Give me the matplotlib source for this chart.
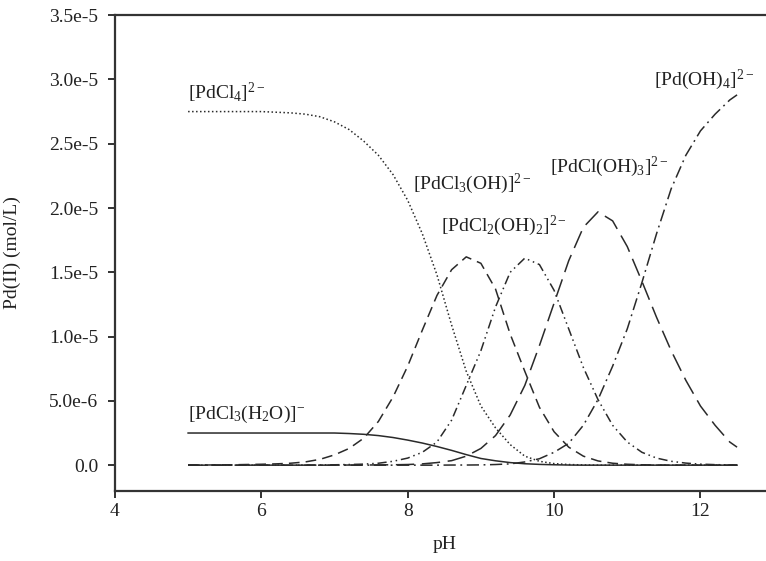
import matplotlib
matplotlib.use('Agg')
import matplotlib.pyplot as plt
import numpy as np

plt.rcParams['font.family'] = ['Liberation Serif', 'DejaVu Serif']
plt.rcParams['mathtext.fontset'] = 'custom'
plt.rcParams['mathtext.rm'] = 'Liberation Serif'
plt.rcParams['mathtext.it'] = 'Liberation Serif:italic'

# pH grid (0.2 step) and concentrations in units of 1e-6 mol/L
ph = [5.0, 5.2, 5.4, 5.6, 5.8, 6.0, 6.2, 6.4, 6.6, 6.8, 7.0, 7.2, 7.4, 7.6, 7.8,
      8.0, 8.2, 8.4, 8.6, 8.8, 9.0, 9.2, 9.4, 9.6, 9.8, 10.0, 10.2, 10.4, 10.6, 10.8,
      11.0, 11.2, 11.4, 11.6, 11.8, 12.0, 12.2, 12.4, 12.5]

pdcl4 = [27.5, 27.5, 27.5, 27.5, 27.5, 27.5, 27.45, 27.4, 27.3, 27.1, 26.7, 26.1, 25.2, 24.1, 22.6,
         20.6, 18.0, 14.8, 10.9, 7.3, 4.6, 2.9, 1.6, 0.7, 0.3, 0.12, 0.05, 0.02, 0.0, 0.0,
         0.0, 0.0, 0.0, 0.0, 0.0, 0.0, 0.0, 0.0, 0.0]
pdcl3_h2o = [2.5, 2.5, 2.5, 2.5, 2.5, 2.5, 2.5, 2.5, 2.5, 2.5, 2.5, 2.46, 2.4, 2.3, 2.15,
             1.95, 1.72, 1.45, 1.15, 0.82, 0.52, 0.34, 0.2, 0.11, 0.06, 0.03, 0.01, 0.0, 0.0, 0.0,
             0.0, 0.0, 0.0, 0.0, 0.0, 0.0, 0.0, 0.0, 0.0]
pdcl3_oh = [0.01, 0.01, 0.02, 0.03, 0.05, 0.07, 0.1, 0.15, 0.25, 0.45, 0.8, 1.3, 2.1, 3.4, 5.3,
            7.7, 10.5, 13.2, 15.2, 16.2, 15.7, 13.7, 10.2, 7.3, 4.5, 2.6, 1.4, 0.7, 0.33, 0.15,
            0.07, 0.03, 0.01, 0.0, 0.0, 0.0, 0.0, 0.0, 0.0]
pdcl2_oh2 = [0.0, 0.0, 0.0, 0.0, 0.0, 0.0, 0.0, 0.0, 0.01, 0.02, 0.03, 0.05, 0.08, 0.15, 0.3,
             0.55, 1.0, 1.8, 3.5, 6.2, 8.9, 12.3, 15.0, 16.1, 15.6, 13.6, 10.6, 7.6, 5.1, 3.1,
             1.8, 1.0, 0.55, 0.3, 0.16, 0.08, 0.04, 0.02, 0.01]
pdcl_oh3 = [0.0, 0.0, 0.0, 0.0, 0.0, 0.0, 0.0, 0.0, 0.0, 0.0, 0.0, 0.01, 0.01, 0.02, 0.03,
            0.05, 0.1, 0.2, 0.35, 0.7, 1.3, 2.3, 3.9, 6.2, 9.3, 12.6, 15.9, 18.5, 19.7, 19.0,
            17.0, 14.3, 11.5, 8.9, 6.6, 4.6, 3.1, 1.8, 1.4]
pd_oh4 = [0.0, 0.0, 0.0, 0.0, 0.0, 0.0, 0.0, 0.0, 0.0, 0.0, 0.0, 0.0, 0.0, 0.0, 0.0,
          0.0, 0.0, 0.0, 0.01, 0.01, 0.02, 0.05, 0.1, 0.25, 0.5, 1.0, 1.7, 3.1, 5.1, 7.7,
          10.6, 14.2, 18.0, 21.5, 24.1, 26.0, 27.3, 28.4, 28.8]

labels = [r'[PdCl$_4$]$^{2-}$', r'[PdCl$_3$(H$_2$O)]$^{-}$', r'[PdCl$_3$(OH)]$^{2-}$',
          r'[PdCl$_2$(OH)$_2$]$^{2-}$', r'[PdCl(OH)$_3$]$^{2-}$', r'[Pd(OH)$_4$]$^{2-}$']
label_ph = [5.0, 5.0, 8.07, 8.45, 9.95, 11.36]
label_val = [28.5, 3.6, 21.5, 18.2, 22.8, 29.6]

ytick_vals = [0, 5e-6, 1e-5, 1.5e-5, 2e-5, 2.5e-5, 3e-5, 3.5e-5]
ytick_labels = ['0.0', '5.0e-6', '1.0e-5', '1.5e-5', '2.0e-5', '2.5e-5', '3.0e-5', '3.5e-5']

fig = plt.figure(figsize=(7.66, 5.61), dpi=100)
ax = fig.add_axes([0.150, 0.125, 0.86, 0.848])

series = [pdcl4, pdcl3_h2o, pdcl3_oh, pdcl2_oh2, pdcl_oh3, pd_oh4]
styles = [(0, (1, 1.6)), '-', (0, (7, 4)), (0, (6, 2.5, 1, 2.5, 1, 2.5)),
          (0, (12, 5)), (0, (8, 3, 1.2, 3))]
ph_arr = np.array(ph)
for vals, ls in zip(series, styles):
    ax.plot(ph_arr, np.array(vals) * 1e-6, color='#2a2a2a', lw=1.1, linestyle=ls)

for lab, lx, ly in zip(labels, label_ph, label_val):
    ax.text(lx, ly * 1e-6, lab, fontsize=14, color='#222222', ha='left', va='baseline')

ax.set_xlim(4, 13)
ax.set_ylim(-2e-6, 3.5e-5)
ax.set_xticks([4, 6, 8, 10, 12])
ax.set_yticks(ytick_vals)
ax.set_yticklabels(ytick_labels)
ax.tick_params(direction='out', length=5, width=1.3, labelsize=14, colors='#222222')
ax.tick_params(axis='y', pad=7)
for sp in ax.spines.values():
    sp.set_linewidth(1.6)
    sp.set_color('#333333')

ax.set_xlabel('pH', fontsize=14, color='#222222', labelpad=12)
ax.set_ylabel('Pd(II) (mol/L)', fontsize=14, color='#222222', labelpad=20)

fig.savefig('out.png', dpi=100)
